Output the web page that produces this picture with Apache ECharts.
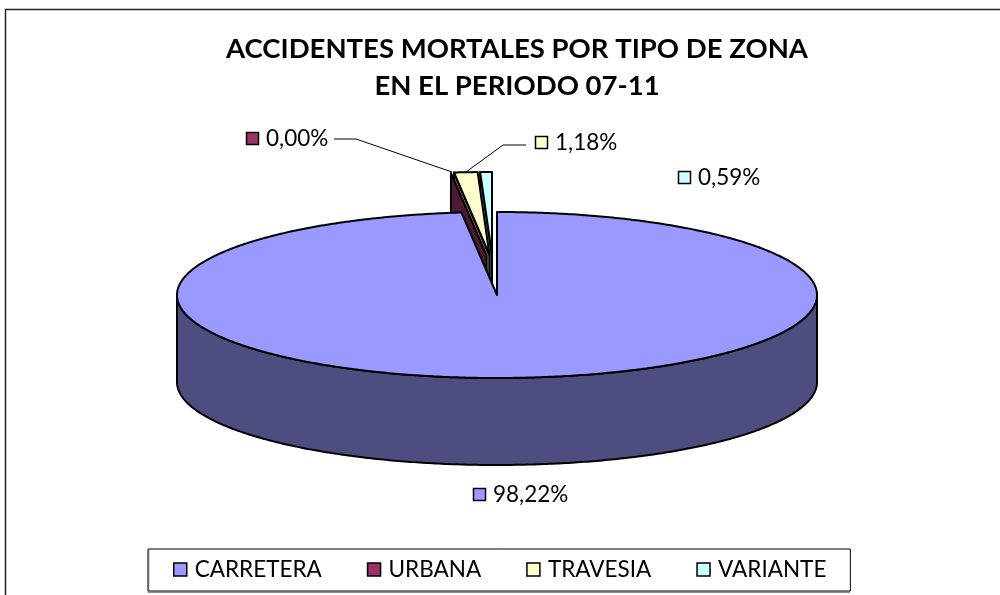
<!DOCTYPE html>
<html><head><meta charset="utf-8">
<style>html,body{margin:0;padding:0;background:#fff}#c{width:1000px;height:595px}</style>
<script src="https://cdn.jsdelivr.net/npm/echarts@6/dist/echarts.min.js"></script>
</head><body><div id="c"></div>
<script>
const categories = ['CARRETERA','URBANA','TRAVESIA','VARIANTE'];
const shares = [98.22, 0.00, 1.18, 0.59];
const colors = ['#9999FF','#993366','#FFFFCC','#CCFFFF'];
const wallColors = ['#4D4D80','#4D1A33','#808066','#668080'];
const titleLines = 'ACCIDENTES MORTALES POR TIPO DE ZONA\nEN EL PERIODO 07-11';

const FONT = 'Lato';
const geo = {cx:497, cy:295, rx:320, ry:83, depth:87};
const explode = [[0,0],[-10.5,-39.5],[-7.5,-40],[-5,-40]];
const labelAt = [[473,495],[246,139],[535,143],[678,178]];
const leaders = [null,[[334,139],[356,139],[452,172]],[[526,145],[503,145],[466,172]],null];
const total = shares.reduce((a,b)=>a+b,0);

function render(i){
  return function(params, api){
    const v = api.value(0);
    let before = 0; for(let k=0;k<i;k++) before += shares[k];
    const a0 = before/total*2*Math.PI, a1 = (before+v)/total*2*Math.PI;
    const [dx,dy] = explode[i];
    const ox = geo.cx+dx, oy = geo.cy+dy;
    const P = a => [ox+geo.rx*Math.sin(a), oy-geo.ry*Math.cos(a)];
    const lineSt = {stroke:'#000',lineWidth:2,lineJoin:'round'};
    const kids = [];
    const n = Math.max(2, Math.ceil((a1-a0)/0.01));
    const arc = []; for(let k=0;k<=n;k++) arc.push(P(a0+(a1-a0)*k/n));
    if(i===0){
      const front = arc.filter((p,k)=>{const a=a0+(a1-a0)*k/n;return a>Math.PI/2&&a<Math.PI*1.5;});
      const wall = [P(Math.PI/2)].concat(front, [P(Math.PI*1.5)]);
      const poly = wall.concat(wall.slice().reverse().map(p=>[p[0],p[1]+geo.depth]));
      kids.push({type:'polygon',shape:{points:poly},style:Object.assign({fill:wallColors[i]},lineSt)});
    } else {
      const o = P(a0);
      kids.push({type:'polygon',shape:{points:[o,[ox,oy],[ox,oy+geo.depth],[o[0],o[1]+geo.depth]]},style:Object.assign({fill:wallColors[i]},lineSt)});
    }
    if(v>0){
      kids.push({type:'polygon',shape:{points:[[ox,oy]].concat(arc)},style:Object.assign({fill:colors[i]},lineSt)});
    }
    const [lx,ly] = labelAt[i];
    kids.push({type:'rect',shape:{x:lx+0.5,y:ly-6.5,width:12,height:12},style:{fill:colors[i],stroke:'#000',lineWidth:1.5}});
    kids.push({type:'text',style:{x:lx+20,y:ly,text:v.toFixed(2).replace('.',',')+'%',fill:'#000',font:'22.5px '+FONT,textAlign:'left',textVerticalAlign:'middle'}});
    if(leaders[i]) kids.push({type:'polyline',shape:{points:leaders[i]},style:{stroke:'#000',lineWidth:1,fill:null}});
    return {type:'group',children:kids};
  };
}

const zOrder = [10,8,7,5];
const series = categories.map((name,i)=>({
  name, type:'custom', coordinateSystem:'none', z:zOrder[i], silent:true, animation:false,
  itemStyle:{color:colors[i]}, data:[[shares[i]]], renderItem:render(i)
}));

const chart = echarts.init(document.getElementById('c'),null,{renderer:'canvas'});
chart.setOption({
  animation:false, backgroundColor:'#fff',
  title:{text:titleLines,left:512,top:26,textAlign:'center',
    textStyle:{fontFamily:FONT,fontWeight:'bold',fontSize:27.5,lineHeight:37,color:'#000'}},
  legend:{show:true,data:categories,left:148,top:549,orient:'horizontal',icon:'rect',
    itemWidth:13,itemHeight:13,itemGap:45,padding:[9,24,10,25],
    backgroundColor:'#fff',borderColor:'#000',borderWidth:1,
    itemStyle:{borderColor:'#000',borderWidth:1.5},
    textStyle:{fontFamily:FONT,fontSize:22.5,color:'#000',padding:[0,0,0,3]}},
  graphic:[
    {type:'polyline',z:0,silent:true,shape:{points:[[5.5,595],[5.5,9.5],[1000,9.5]]},style:{stroke:'#222',lineWidth:1.5,fill:null}},
    {type:'polyline',z:20,silent:true,shape:{points:[[148.5,549],[148.5,592],[850,592]]},style:{stroke:'#666',lineWidth:1.5,fill:null}}
  ],
  series
});
</script></body></html>
